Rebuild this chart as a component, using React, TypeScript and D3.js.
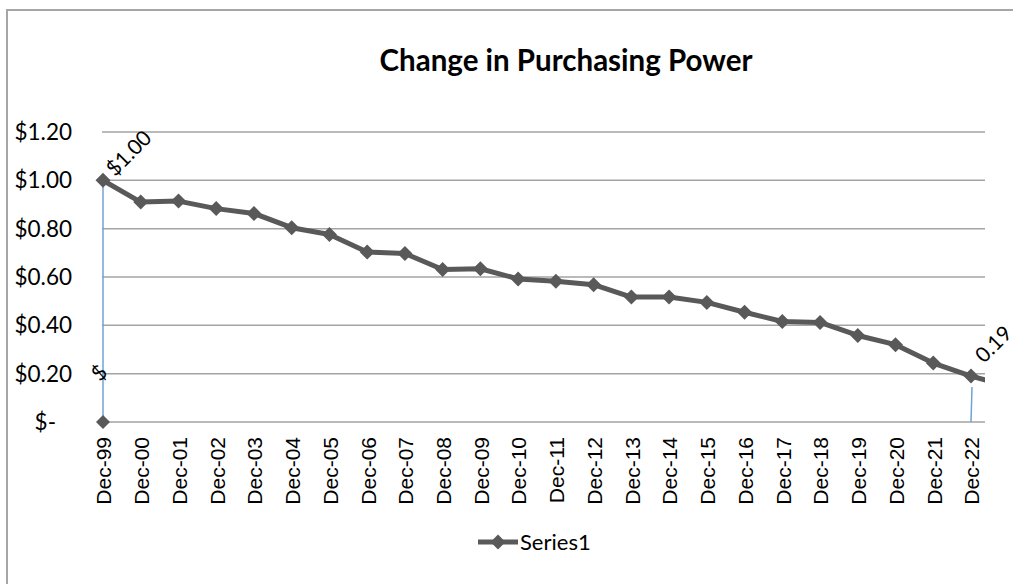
import React from 'react';
import * as d3 from 'd3';

const categories = ['Dec-99','Dec-00','Dec-01','Dec-02','Dec-03','Dec-04','Dec-05','Dec-06','Dec-07','Dec-08','Dec-09','Dec-10','Dec-11','Dec-12','Dec-13','Dec-14','Dec-15','Dec-16','Dec-17','Dec-18','Dec-19','Dec-20','Dec-21','Dec-22'];
const values = [1.0,0.91,0.914,0.883,0.863,0.804,0.776,0.703,0.697,0.631,0.634,0.592,0.582,0.568,0.517,0.517,0.495,0.454,0.416,0.412,0.358,0.32,0.244,0.19];
const tailValue = 0.147; // next point beyond the plot, clipped
const yTicks = [0, 0.2, 0.4, 0.6, 0.8, 1.0, 1.2];
const yTickLabels = ['$-', '$0.20', '$0.40', '$0.60', '$0.80', '$1.00', '$1.20'];
const zeroMarkerValue = 0;
const lastStubValue = 0.145;
const title = 'Change in Purchasing Power';
const seriesName = 'Series1';

const GREY = '#595959';
const GRID = '#a3a3a3';
const BLUE = '#6fa3d8';
const CAL = 'Lato, "Open Sans", sans-serif';
const ARIAL = '"Liberation Sans", Arial, sans-serif';

export default function App() {
  const left = 102, right = 985, top = 132, bottom = 422;
  const x = d3.scalePoint<string>().domain(categories).range([103, 971]);
  const y = d3.scaleLinear().domain([0, 1.2]).range([bottom, top]);
  const step = x.step();
  const pts: [number, number][] = values.map((v, i) => [x(categories[i])!, y(v)]);
  const lastX = x(categories[categories.length - 1])!;
  const linePts: [number, number][] = [...pts, [lastX + step, y(tailValue)]];
  const line = d3.line();
  const diamond = (r: number) => `M0,${-r}L${r},0L0,${r}L${-r},0Z`;
  const x0 = x(categories[0])!;

  return (
    <svg width={1013} height={584} style={{ position: 'absolute', left: 0, top: 0, background: '#fff' }}>
      <defs>
        <clipPath id="plotclip">
          <rect x={left} y={0} width={right - left} height={584} />
        </clipPath>
      </defs>
      <rect x={7} y={10} width={1200} height={800} fill="#fff" stroke="#a6a6a6" strokeWidth={2} />
      <text x={566} y={71} textAnchor="middle" fontFamily={CAL} fontWeight="bold" fontSize={29.5} fill="#000">{title}</text>
      {yTicks.map((t) => (
        <line key={t} x1={left} x2={right} y1={y(t)} y2={y(t)} stroke={GRID} strokeWidth={1.5} />
      ))}
      {yTicks.map((t, i) => (
        <text key={'l' + t} x={t === 0 ? 56 : 72} y={y(t)} dy="0.35em" textAnchor="end" fontFamily={CAL} fontSize={22.5} fill="#000">{yTickLabels[i]}</text>
      ))}
      {categories.map((c) => (
        <text key={c} transform={`translate(${x(c)! + 1},${437}) rotate(-90)`} dy="0.35em" textAnchor="end" fontFamily={ARIAL} fontSize={21} fill="#000">{c}</text>
      ))}
      <line x1={x0} x2={x0} y1={y(zeroMarkerValue)} y2={y(values[0])} stroke={BLUE} strokeWidth={1.5} />
      <line x1={lastX} x2={lastX + 1} y1={y(0)} y2={y(lastStubValue)} stroke={BLUE} strokeWidth={1.5} />
      <path d={diamond(7)} transform={`translate(${x0},${y(zeroMarkerValue)})`} fill={GREY} />
      <g clipPath="url(#plotclip)">
        <path d={line(linePts) || ''} fill="none" stroke={GREY} strokeWidth={5} strokeLinejoin="round" />
      </g>
      {pts.map((p, i) => (
        <path key={i} d={diamond(7.5)} transform={`translate(${p[0]},${p[1]})`} fill={GREY} />
      ))}
      <text transform={`translate(${x0 - 4},${y(0.2) - 1}) rotate(-45)`} textAnchor="middle" dy="0.35em" fontFamily={CAL} fontSize={21} fill="#000">$</text>
      <text transform={`translate(${x0 + 12},${y(values[0]) - 3}) rotate(-45)`} fontFamily={CAL} fontSize={21} fill="#000">$1.00</text>
      <text transform={`translate(${lastX + 13},${y(values[values.length - 1]) - 12}) rotate(-45)`} fontFamily={CAL} fontSize={21} fill="#000">{values[values.length - 1].toFixed(2)}</text>
      <line x1={478} x2={518} y1={542} y2={542} stroke={GREY} strokeWidth={5} />
      <path d={diamond(7.5)} transform="translate(498,542)" fill={GREY} />
      <text x={520} y={542} dy="0.35em" fontFamily={CAL} fontSize={22} fill="#000">{seriesName}</text>
    </svg>
  );
}
